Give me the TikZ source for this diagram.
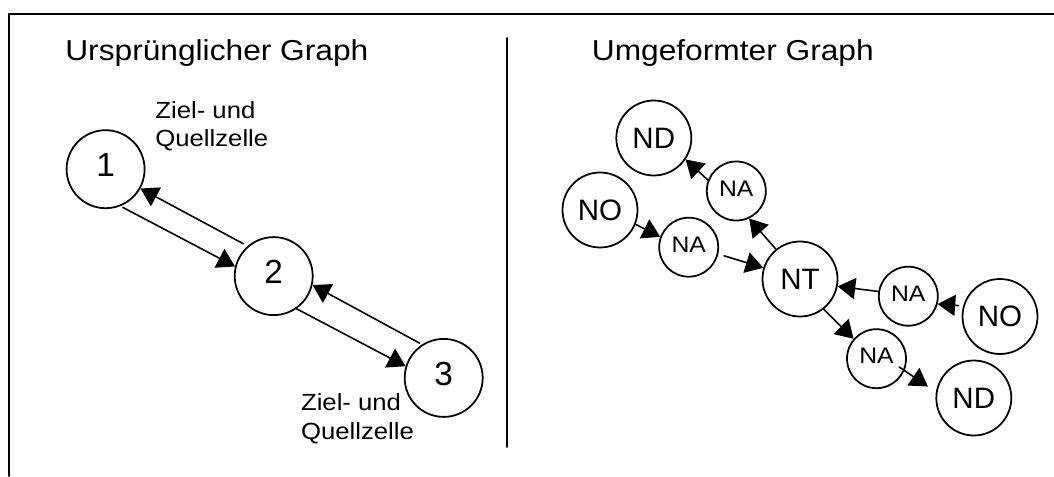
\documentclass[tikz,border=0pt]{standalone}
\usepackage{fontspec}
\setmainfont{Liberation Sans}
\usetikzlibrary{arrows.meta}
\tikzset{>=latex}
\tikzset{frame/.style={black, line width=1.1pt}}
\tikzset{cell/.style={circle, draw, line width=1pt, minimum size=1.56cm, inner sep=0pt, text depth=5pt, font=\fontsize{19}{22}\selectfont}}
\tikzset{knot/.style={circle, draw, line width=1pt, minimum size=1.5cm, inner sep=0pt, font=\fontsize{16.8}{19}\selectfont}}
\tikzset{aux/.style={circle, draw, line width=1pt, minimum size=1.18cm, inner sep=0pt, text depth=3pt, font=\fontsize{12.8}{15}\selectfont}}
\tikzset{link/.style={black, line width=0.9pt, -{Triangle[length=10pt, width=12pt]}}}
\tikzset{heading/.style={anchor=base west, inner sep=0pt, font=\fontsize{16.4}{19}\selectfont}}
\tikzset{remark/.style={anchor=base west, inner sep=0pt, align=left, font=\fontsize{13.3}{16.2}\selectfont}}
\newcommand{\wide}[1]{\scalebox{1.1}[1]{#1}}

\begin{document}
\begin{tikzpicture}[line cap=round, line join=round]
	\useasboundingbox (0,0) rectangle (21.08,9.52);

	% Frame and Divider
	\draw[frame] (21.08,9.24) -- (0.18,9.24) -- (0.18,0);
	\draw[frame] (10.14,8.76) -- (10.14,0.58);

	% Headings
	\node[heading] (h1) at (1.30,8.306) {\wide{Ursprünglicher Graph}};
	\node[heading] (h2) at (11.83,8.306) {\wide{Umgeformter Graph}};

	% Original Graph
	\node[cell] (n1) at (2.112,6.136) {1};
	\node[cell] (n2) at (5.474,3.998) {2};
	\node[cell] (n3) at (8.874,1.962) {3};

	% (base of a two-line node is its last line)
	\node[remark] (r1) at (3.10,6.586) {\wide{Ziel- und}\\\wide{Quellzelle}};
	\node[remark] (r3) at (6.014,0.74) {\wide{Ziel- und}\\\wide{Quellzelle}};

	\draw[link, shorten <=2.7pt] (n2.131) -- (n1.-29);
	\draw[link, shorten <=1.5pt] (n1.-68) -- (n2.166);
	\draw[link, shorten <=1.5pt] (n3.123) -- (n2.-13);
	\draw[link] (n2.-55) -- (n3.163);

	% Transformed Graph
	\node[knot] (ndA) at (13.076,6.76) {ND};
	\node[knot] (noA) at (12.0,5.32) {NO};
	\node[aux] (naA) at (14.726,5.70) {\wide{NA}};
	\node[aux] (naB) at (13.774,4.576) {\wide{NA}};
	\node[knot] (nt) at (16.0,3.94) {NT};
	\node[aux] (naC) at (18.166,3.596) {\wide{NA}};
	\node[knot] (noB) at (20.0,3.19) {NO};
	\node[aux] (naD) at (17.53,2.346) {\wide{NA}};
	\node[knot] (ndB) at (19.476,1.56) {ND};

	\draw[link] (naA.159) -- (ndA.-34);
	\draw[link] (nt.129) -- (naA.-65);
	\draw[link] (noA.-22) -- (naB.160);
	\draw[link, shorten <=3.4pt] (naB.-13) -- (nt.163);
	\draw[link] (naC.171) -- (nt.-11);
	\draw[link, shorten <=2.6pt] (noB.164) -- (naC.-15);
	\draw[link] (nt.-52) -- (naD.139);
	\draw[link, shorten <=-3.6pt, shorten >=5.5pt] (naD.-23) -- (ndB.171);
\end{tikzpicture}
\end{document}
